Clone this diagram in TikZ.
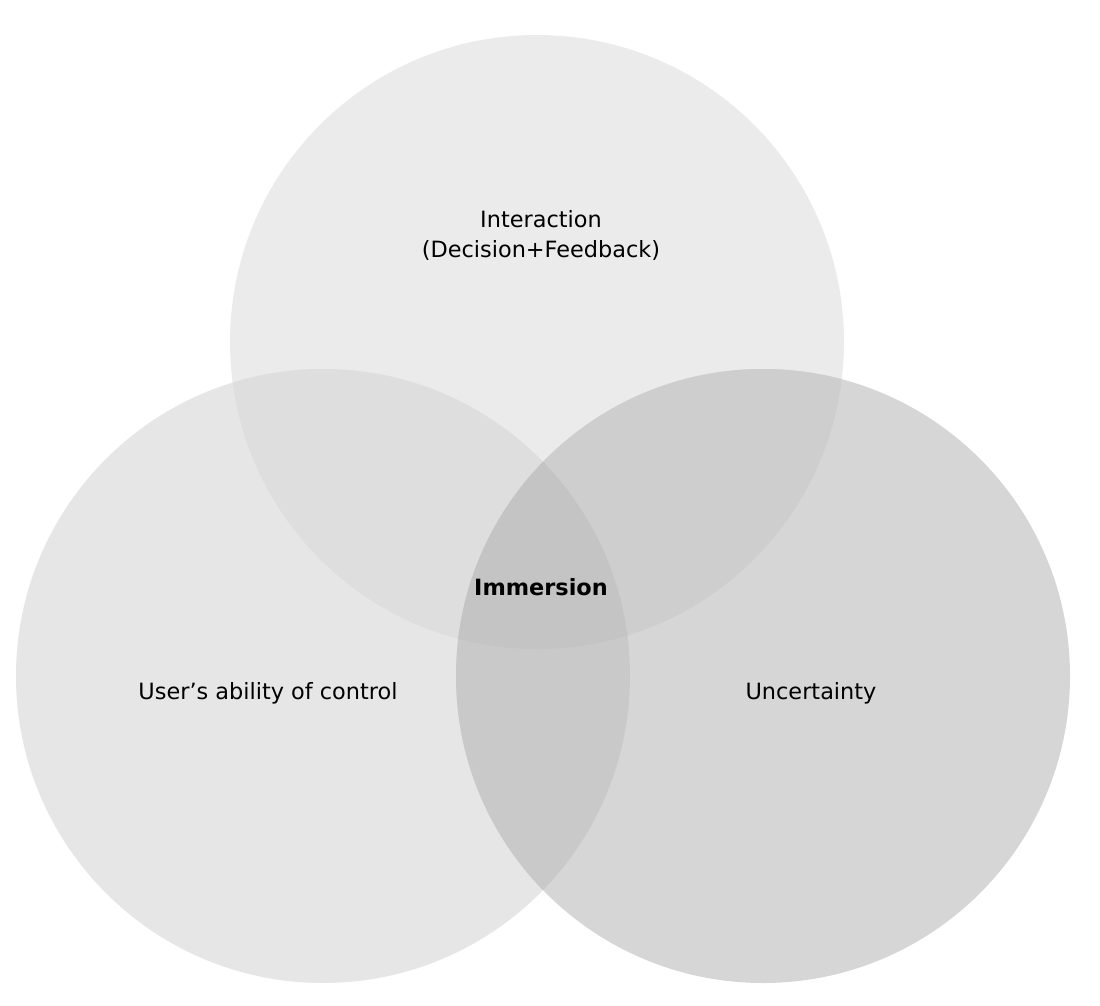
\documentclass[tikz,border=0pt]{standalone}
\usepackage{fontspec}
\setmainfont{DejaVu Sans}
\usetikzlibrary{positioning}
\definecolor{topgrey}{HTML}{EBEBEB}
\definecolor{leftgrey}{HTML}{E6E6E6}
\definecolor{rightgrey}{HTML}{D6D6D6}
\definecolor{tlgrey}{HTML}{DEDEDE}
\definecolor{trgrey}{HTML}{CECECE}
\definecolor{lrgrey}{HTML}{C9C9C9}
\definecolor{allgrey}{HTML}{C4C4C4}

\begin{document}
\begin{tikzpicture}[x=1pt, y=-1pt,
    set/.style={circle, minimum size=614pt, inner sep=0pt, draw=none},
    lbl/.style={align=center, font=\fontsize{22.4}{30}\selectfont}]
  \useasboundingbox (0,0) rectangle (1100,1006);
  % the three sets
  \node[set, fill=topgrey] (inter) at (537,342) {};
  \node[set, fill=leftgrey] (ctrl) at (323,676) {};
  \node[set, fill=rightgrey] (unc) at (763,676) {};
  % overlaps
  \begin{scope}
    \clip (inter.center) circle (307pt);
    \fill[tlgrey] (ctrl.center) circle (307pt);
    \fill[trgrey] (unc.center) circle (307pt);
  \end{scope}
  \begin{scope}
    \clip (ctrl.center) circle (307pt);
    \fill[lrgrey] (unc.center) circle (307pt);
    \clip (inter.center) circle (307pt);
    \fill[allgrey] (unc.center) circle (307pt);
  \end{scope}
  % labels
  \node[lbl] (interlbl) at (541,235) {Interaction\\(Decision+Feedback)};
  \node[lbl] (ctrllbl) at (268,693) {User’s ability of control};
  \node[lbl] (unclbl) at (811,693) {Uncertainty};
  \node[lbl, font=\fontsize{22.4}{30}\selectfont\bfseries] (imm) at (541,587) {Immersion};
\end{tikzpicture}
\end{document}
